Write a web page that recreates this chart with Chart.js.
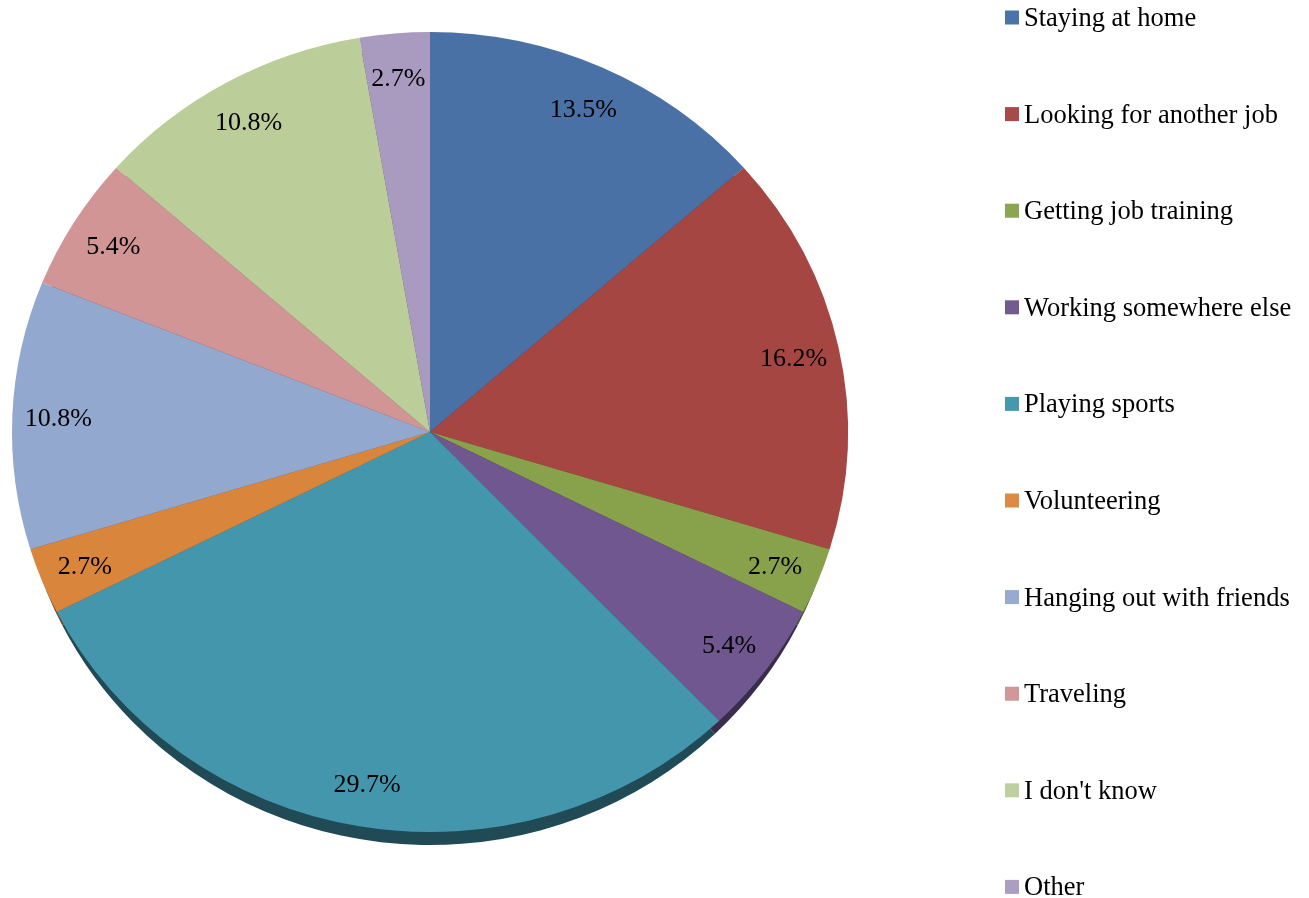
<!DOCTYPE html>
<html>
<head>
<meta charset="utf-8">
<script src="https://cdn.jsdelivr.net/npm/chart.js@4"></script>
<style>
html,body{margin:0;padding:0;background:#fff;}
#wrap{width:1309px;height:898px;position:relative;}
</style>
</head>
<body>
<div id="wrap"><canvas id="c" width="1309" height="898"></canvas></div>
<script>
const categories = ["Staying at home","Looking for another job","Getting job training","Working somewhere else","Playing sports","Volunteering","Hanging out with friends","Traveling","I don't know","Other"];
const percentages = [13.5, 16.2, 2.7, 5.4, 29.7, 2.7, 10.8, 5.4, 10.8, 2.7];
const sliceColors = ["#4a71a5","#a54643","#88a24c","#70578f","#4396ac","#d9853c","#93a8cf","#d09594","#bbcd99","#a99bbf"];
const legendColors = ["#4a74a9","#a84a47","#8aa650","#735b92","#4599af","#dd8a42","#95abd2","#d29897","#bed09d","#ab9ec2"];
const depthColors = ["#243a55","#542322","#44512a","#3a2d4c","#1f4a56","#6d431f","#4a5468","#684a4a","#5e664c","#554d60"];

const FONT = "'Liberation Serif','Times New Roman',serif";
const YSCALE = 400 / 418;
const DEPTH = 13;
const DEPTH_XSCALE = 412 / 418;

const pie3d = {
  id: 'pie3d',
  beforeDatasetsDraw(chart) {
    const ctx = chart.ctx;
    const meta = chart.getDatasetMeta(0);
    const cx = meta.data[0].x;
    const cy = meta.data[0].y;
    ctx.save();
    ctx.translate(cx, cy + DEPTH);
    ctx.scale(DEPTH_XSCALE, YSCALE);
    ctx.translate(-cx, -cy);
    meta.data.forEach((a, i) => {
      ctx.beginPath();
      ctx.moveTo(a.x, a.y);
      ctx.arc(a.x, a.y, a.outerRadius, a.startAngle, a.endAngle);
      ctx.closePath();
      ctx.fillStyle = depthColors[i];
      ctx.fill();
    });
    ctx.restore();
    ctx.save();
    ctx.translate(0, cy);
    ctx.scale(1, YSCALE);
    ctx.translate(0, -cy);
  },
  afterDatasetsDraw(chart) {
    const ctx = chart.ctx;
    ctx.restore();
    const meta = chart.getDatasetMeta(0);
    ctx.save();
    ctx.font = "26px " + FONT;
    ctx.fillStyle = "#000";
    ctx.textAlign = "center";
    ctx.textBaseline = "alphabetic";
    meta.data.forEach((a, i) => {
      const mid = (a.startAngle + a.endAngle) / 2;
      const r = a.outerRadius * 0.89;
      const x = a.x + Math.cos(mid) * r;
      const y = a.y + Math.sin(mid) * r * YSCALE;
      ctx.fillText(percentages[i].toFixed(1) + "%", x, y + 9);
    });
    ctx.font = "26.5px " + FONT;
    ctx.textAlign = "left";
    categories.forEach((c, i) => {
      const yc = 17.5 + i * 96.6;
      ctx.fillStyle = legendColors[i];
      ctx.fillRect(1005, yc - 7, 14, 14);
      ctx.fillStyle = "#000";
      ctx.fillText(c, 1024, yc + 8.5);
    });
    ctx.restore();
  }
};

new Chart(document.getElementById('c'), {
  type: 'pie',
  data: {
    labels: categories,
    datasets: [{
      data: percentages,
      backgroundColor: sliceColors,
      borderWidth: 0
    }]
  },
  options: {
    responsive: false,
    animation: false,
    layout: { padding: { left: 12, right: 461, top: 14, bottom: 48 } },
    plugins: { legend: { display: false }, tooltip: { enabled: false } }
  },
  plugins: [pie3d]
});
</script>
</body>
</html>
